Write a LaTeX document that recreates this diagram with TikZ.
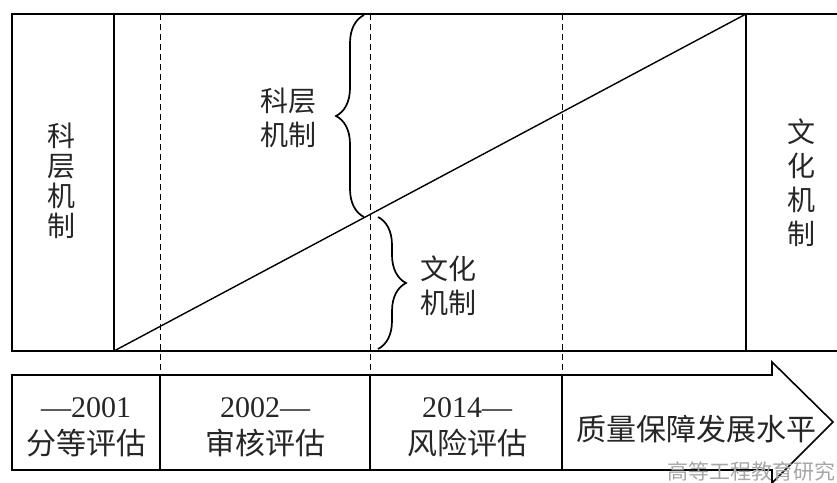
\documentclass[tikz,border=0pt]{standalone}
\usepackage{fontspec}
\newfontfamily\cjk{Noto Sans CJK SC}
\newfontfamily\numf{Liberation Serif}
\usetikzlibrary{decorations.pathreplacing}
\begin{document}
\begin{tikzpicture}[x=1pt,y=-1pt,
  frame/.style={line width=1.6pt},
  diag/.style={line width=1.4pt},
  dashline/.style={dash pattern=on 6pt off 4pt, line width=0.9pt},
  bracel/.style={decorate, decoration={brace, amplitude=28pt, aspect=0.5}, line width=1.7pt},
  lbl/.style={inner sep=0pt, align=center, text=black!85, font=\cjk\fontsize{28}{34}\selectfont},
  vlbl/.style={inner sep=0pt, align=center, text=black!85, font=\cjk\fontsize{28}{30}\selectfont},
  era/.style={inner sep=0pt, align=center, text=black!85, font=\numf\fontsize{30}{37}\selectfont},
  wmark/.style={inner sep=0pt, text=black!35, font=\cjk\fontsize{21}{24}\selectfont}]
\useasboundingbox (0,0) rectangle (837,482);
\clip (0,0) rectangle (837,482);
% frame coordinates
\coordinate (tl) at (12,14);
\coordinate (bl) at (12,351);
\coordinate (tr) at (840,14);
\coordinate (br) at (840,351);
\coordinate (s1t) at (114,14);
\coordinate (s1b) at (114,351);
\coordinate (s2t) at (746,14);
\coordinate (s2b) at (746,351);
\coordinate (d1t) at (160,14);
\coordinate (d1b) at (160,375);
\coordinate (d2t) at (370,14);
\coordinate (d2b) at (370,375);
\coordinate (d3t) at (562,14);
\coordinate (d3b) at (562,375);
% upper frame
\draw[frame] (tr) -- (tl) -- (bl) -- (br);
\draw[frame] (s1t) -- (s1b);
\draw[frame] (s2t) -- (s2b);
\draw[dashline] (d1t) -- (d1b);
\draw[dashline] (d2t) -- (d2b);
\draw[dashline] (d3t) -- (d3b);
\draw[diag] (s1b) -- (s2t);
% braces
\coordinate (b1a) at (364,217);
\coordinate (b1b) at (364,15);
\coordinate (b2a) at (378,217);
\coordinate (b2b) at (378,349);
\draw[bracel] (b1a) -- (b1b);
\draw[bracel] (b2a) -- (b2b);
% labels in upper part
\node[vlbl] (kl) at (61,181) {科\\层\\机\\制};
\node[vlbl, font=\cjk\fontsize{28}{34}\selectfont] (wr) at (801,183) {文\\化\\机\\制};
\node[lbl] (ku) at (288,118) {科层\\机制};
\node[lbl] (wl) at (448,286) {文化\\机制};
% arrow band
\coordinate (a1) at (12,375);
\coordinate (a2) at (772,375);
\coordinate (a3) at (772,362);
\coordinate (tip) at (833,422);
\coordinate (a5) at (772,483);
\coordinate (a6) at (772,470);
\coordinate (a7) at (12,470);
\draw[frame] (a1) -- (a2) -- (a3) -- (tip) -- (a5) -- (a6) -- (a7) -- cycle;
\coordinate (c1t) at (160,375);
\coordinate (c1b) at (160,470);
\coordinate (c2t) at (370,375);
\coordinate (c2b) at (370,470);
\coordinate (c3t) at (562,375);
\coordinate (c3b) at (562,470);
\draw[line width=1.1pt] (c1t) -- (c1b);
\draw[line width=1.1pt] (c2t) -- (c2b);
\draw[line width=1.1pt] (c3t) -- (c3b);
\node[era] (e1) at (86,427) {—2001\\{\cjk 分等评估}};
\node[era] (e2) at (265,427) {2002—\\{\cjk 审核评估}};
\node[era] (e3) at (467,427) {2014—\\{\cjk 风险评估}};
\node[lbl, font=\cjk\fontsize{30}{34}\selectfont] (e4) at (696,429) {质量保障发展水平};
\node[wmark, anchor=west] (wm) at (667,471) {高等工程教育研究};
\end{tikzpicture}
\end{document}
